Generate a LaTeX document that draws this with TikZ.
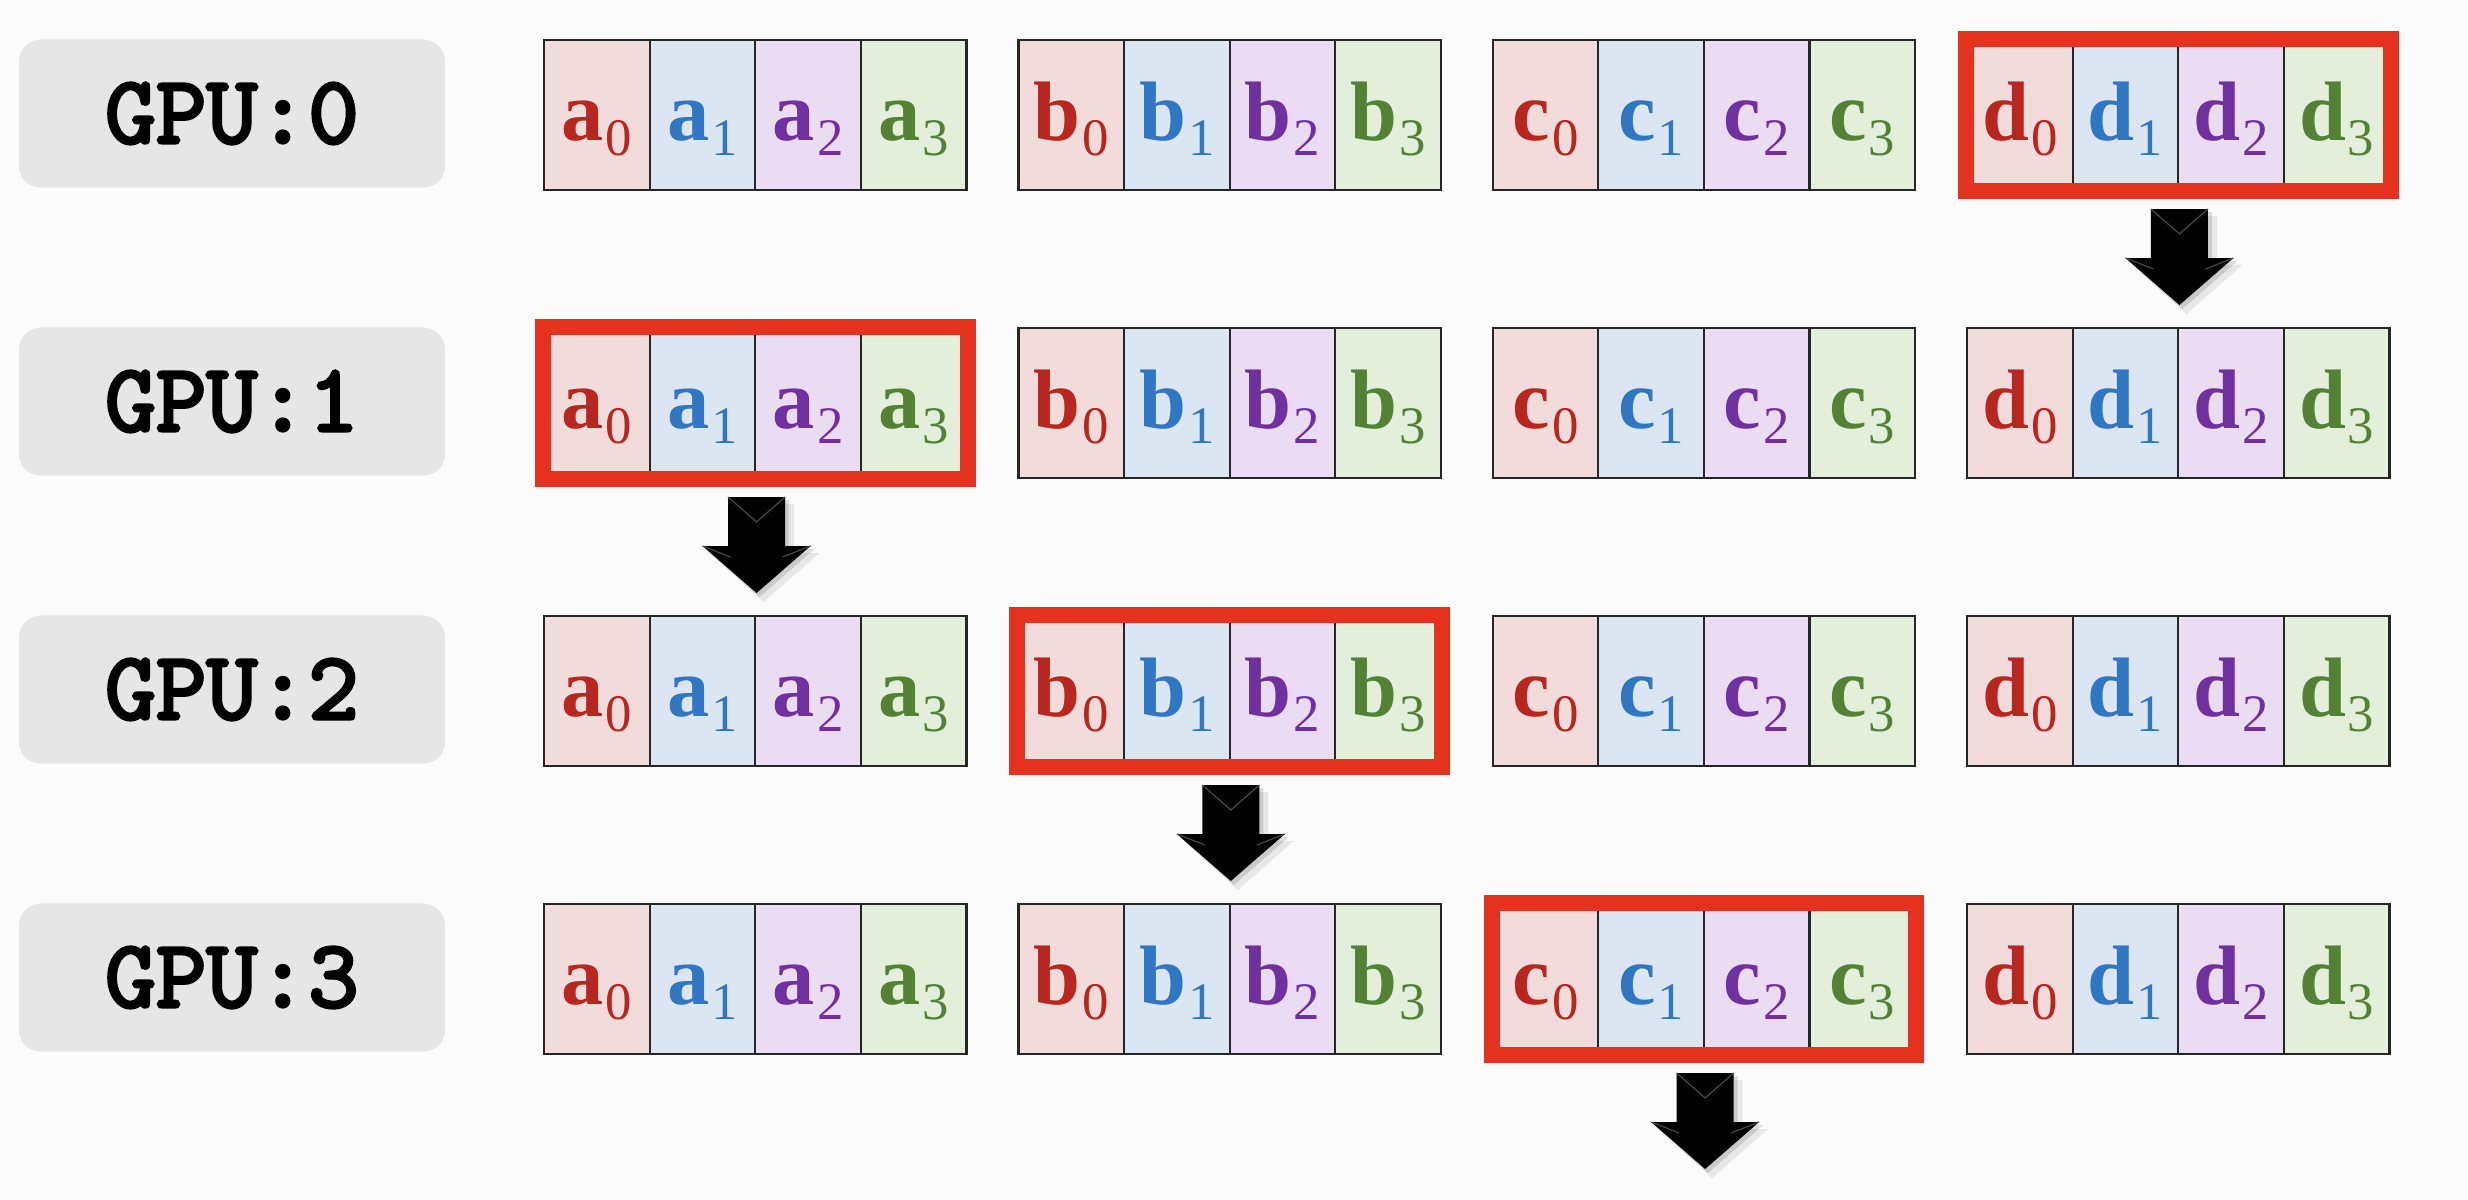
\documentclass[tikz,border=0pt]{standalone}
\usepackage{fontspec}
\setmainfont{Liberation Serif}
\newfontfamily\cellfont{Liberation Serif}
\newfontfamily\gpufont[FakeBold=3.2]{lmmono10-regular.otf}
\usetikzlibrary{calc}

\definecolor{bgc}{HTML}{FBFBFB}
\definecolor{gpubg}{HTML}{E6E6E6}
\definecolor{f0}{HTML}{F2DCDB}
\definecolor{f1}{HTML}{DCE6F2}
\definecolor{f2}{HTML}{EADDF3}
\definecolor{f3}{HTML}{E3EFDA}
\definecolor{t0}{HTML}{B8261E}
\definecolor{t1}{HTML}{2F77C3}
\definecolor{t2}{HTML}{7030A0}
\definecolor{t3}{HTML}{548235}
\definecolor{hl}{HTML}{E5321F}

\begin{document}
\begin{tikzpicture}[x=0.01cm,y=-0.01cm,
  gpubox/.style={fill=gpubg, draw=none, rounded corners=0.22cm,
    minimum width=4.26cm, minimum height=1.48cm, inner sep=0pt,
    font=\gpufont\fontsize{27.5}{28}\selectfont},
  cellbox/.style={draw=black!85, line width=0.65pt, minimum width=1.056cm,
    minimum height=1.50cm, inner sep=0pt, anchor=north west},
  celltext/.style={anchor=base, inner sep=0pt},
  hlframe/.style={draw=hl, line width=4.6pt},
  arrowbody/.style={fill=black},
  bevel/.style={draw=black!72, line width=0.35pt}
]
\useasboundingbox (0,0) rectangle (2468,1200);
\fill[bgc] (0,0) rectangle (2468,1200);

\foreach \r in {0,1,2,3} {
  \pgfmathsetmacro\ytop{39+288*\r}
  \node[gpubox] (gpu\r) at (232, \ytop+74.5) {GPU:\r};
  \foreach \g/\L in {0/a,1/b,2/c,3/d} {
    \pgfmathsetmacro\xl{543+474.3*\g}
    \foreach \k in {0,1,2,3} {
      \node[cellbox, fill=f\k] (c\r\L\k) at (\xl+105.6*\k, \ytop) {};
      \node[celltext, text=t\k] (t\r\L\k) at ($(c\r\L\k.north)+(0,101)$)
        {{\cellfont\bfseries\fontsize{24}{24}\selectfont \L}\kern0.02cm\raisebox{-0.15cm}{\cellfont\fontsize{15}{15}\selectfont \k}};
    }
  }
}

\foreach \r/\L in {0/d,1/a,2/b,3/c} {
  \draw[hlframe] (c\r\L0.north west) rectangle (c\r\L3.south east);
  \coordinate (ar\r) at ($(c\r\L1.north east)+(0,170)$);
  \begin{scope}[shift={(ar\r)}]
    \fill[black, opacity=0.08] (-22.5,7) -- (37.5,7) -- (37.5,56) -- (63,56) -- (7,105) -- (-47,56) -- (-22.5,56) -- cycle;
    \fill[black, opacity=0.12] (-25.5,3) -- (32.5,3) -- (32.5,52) -- (58,52) -- (3,100) -- (-51,52) -- (-25.5,52) -- cycle;
    \fill[arrowbody] (-28.5,0) -- (28.5,0) -- (28.5,49) -- (54,49) -- (0,96) -- (-54,49) -- (-28.5,49) -- cycle;
    \draw[bevel] (-28.5,0) -- (0,25) -- (28.5,0);
    \draw[bevel] (-54,49) -- (-26,60);
    \draw[bevel] (54,49) -- (26,60);
  \end{scope}
}
\end{tikzpicture}
\end{document}
